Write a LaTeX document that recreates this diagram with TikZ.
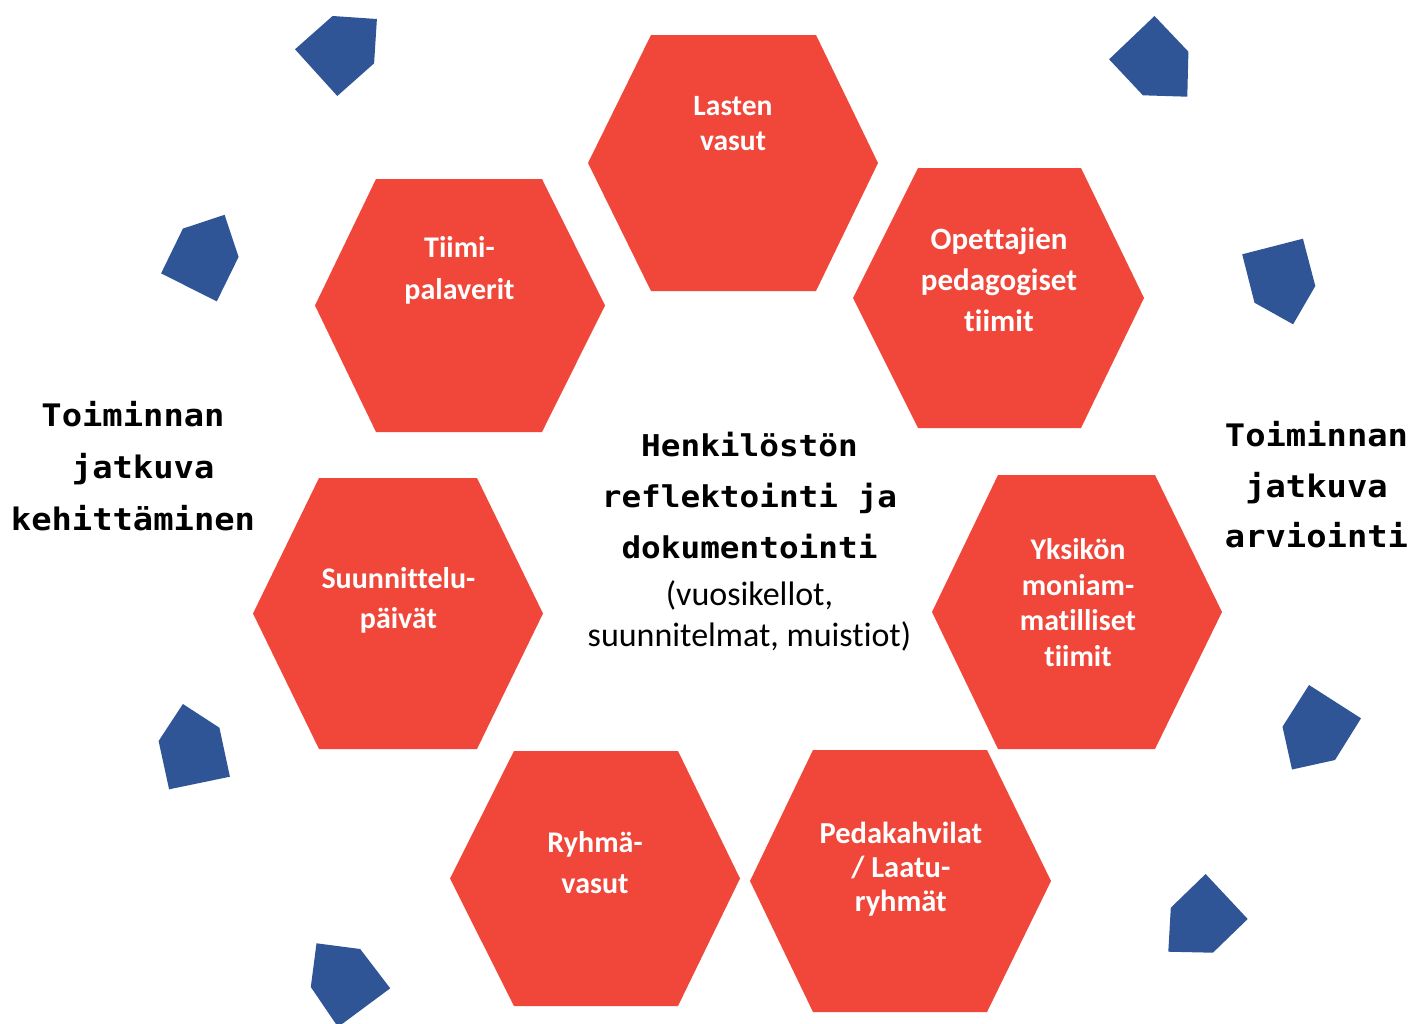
\documentclass[tikz,border=0pt]{standalone}
\usepackage{fontspec}
\setmainfont[Ligatures=CommonOff]{Carlito}
\newfontfamily\monofam[FakeStretch=1.09]{DejaVu Sans Mono}
\definecolor{hexred}{HTML}{F1463A}
\definecolor{gemblue}{HTML}{2F5597}
% anchor=base of a multi-line node is the baseline of its LAST line
\tikzset{
  hexlabel/.style={text=white, align=center, anchor=base, inner sep=0pt,
    font=\bfseries\fontsize{30}{36}\selectfont},
  titletext/.style={text=black, align=center, anchor=base, inner sep=0pt,
    font=\monofam\bfseries\fontsize{31}{52}\selectfont},
  subtext/.style={text=black, align=center, anchor=base, inner sep=0pt,
    font=\fontsize{34}{41}\selectfont},
  hexfill/.style={fill=hexred},
  gemfill/.style={fill=gemblue}
}
% #1 left point x, #2 top-left x, #3 top-right x, #4 right point x, #5 top y, #6 bottom y
\newcommand\hexshape[6]{%
  \fill[hexfill] (#1,{(#5+#6)/2}) -- (#2,#5) -- (#3,#5) -- (#4,{(#5+#6)/2})
    -- (#3,#6) -- (#2,#6) -- cycle;}
\begin{document}
\begin{tikzpicture}[x=1pt,y=-1pt]
\useasboundingbox (0,0) rectangle (1410,1023);
\fill[white] (0,0) rectangle (1410,1023);

% hexagons
\hexshape{588}{651}{816}{878}{35}{291}
\hexshape{315}{376}{542}{605}{179}{432}
\hexshape{853}{918}{1081}{1144}{168}{428}
\hexshape{253}{319}{477}{543}{478}{749}
\hexshape{932}{998}{1155}{1222}{475}{749}
\hexshape{450}{514}{678}{740}{751}{1006}
\hexshape{750}{813}{987}{1051}{750}{1012}

% blue pentagons
\fill[gemfill] (332.6,16) -- (376.9,19) -- (374.1,63.3) -- (337.3,96) -- (295,49.3) -- cycle;
\fill[gemfill] (1154.5,16) -- (1188.4,51.7) -- (1187.3,96.7) -- (1142.9,95.3) -- (1109.1,59.3) -- cycle;
\fill[gemfill] (1242.2,254.3) -- (1302.9,238.7) -- (1315.3,286) -- (1293.1,324.3) -- (1254.5,302.7) -- cycle;
\fill[gemfill] (182.9,228.6) -- (224.6,214.8) -- (238.6,256.9) -- (216.8,301.3) -- (161.1,273.4) -- cycle;
\fill[gemfill] (182.9,704) -- (219.4,727.7) -- (229.9,776.7) -- (169.1,789.3) -- (158.6,741) -- cycle;
\fill[gemfill] (316.5,943.3) -- (360.2,949) -- (390.2,988.3) -- (338,1027) -- (310.8,987) -- cycle;
\fill[gemfill] (1309,685) -- (1361,718.3) -- (1335,760) -- (1292,769.5) -- (1282.5,726.7) -- cycle;
\fill[gemfill] (1205.6,874) -- (1247.7,919) -- (1212.9,952.7) -- (1168.3,951.7) -- (1170.8,907.7) -- cycle;

% hexagon labels (positioned at the baseline of the last line)
\node[hexlabel, font=\bfseries\fontsize{29.5}{35}\selectfont] (lasten) at (733,150) {Lasten\\vasut};
\node[hexlabel, font=\bfseries\fontsize{30}{42}\selectfont] (tiimi) at (459.5,299) {Tiimi-\\palaverit};
\node[hexlabel, font=\bfseries\fontsize{31}{41.3}\selectfont] (opettajien) at (999,331.6) {Opettajien\\pedagogiset\\tiimit};
\node[hexlabel, font=\bfseries\fontsize{30}{40}\selectfont] (suunnittelu) at (398.4,628.7) {Suunnittelu-\\päivät};
\node[hexlabel, font=\bfseries\fontsize{30}{35.8}\selectfont] (yksikon) at (1078,666.7) {Yksikön\\moniam-\\matilliset\\tiimit};
\node[hexlabel, font=\bfseries\fontsize{30}{40.6}\selectfont] (ryhma) at (595,893.3) {Ryhmä-\\vasut};
\node[hexlabel, font=\bfseries\fontsize{30.5}{34}\selectfont] (peda) at (900.8,911.3) {Pedakahvilat\\/ Laatu-\\ryhmät};

% titles
\node[titletext] (kehitt) at (133,530) {Toiminnan\\\hphantom{j}jatkuva\\kehittäminen};
\node[titletext, font=\monofam\bfseries\fontsize{31}{50.3}\selectfont] (arvio) at (1316.5,547.3) {Toiminnan\\jatkuva\\arviointi};
\node[titletext, font=\monofam\bfseries\fontsize{30}{50.8}\selectfont] (henk) at (749.5,558.3) {Henkilöstön\\reflektointi ja\\dokumentointi};
\node[subtext] (doc) at (749.5,646) {(vuosikellot,\\suunnitelmat, muistiot)};
\end{tikzpicture}
\end{document}
